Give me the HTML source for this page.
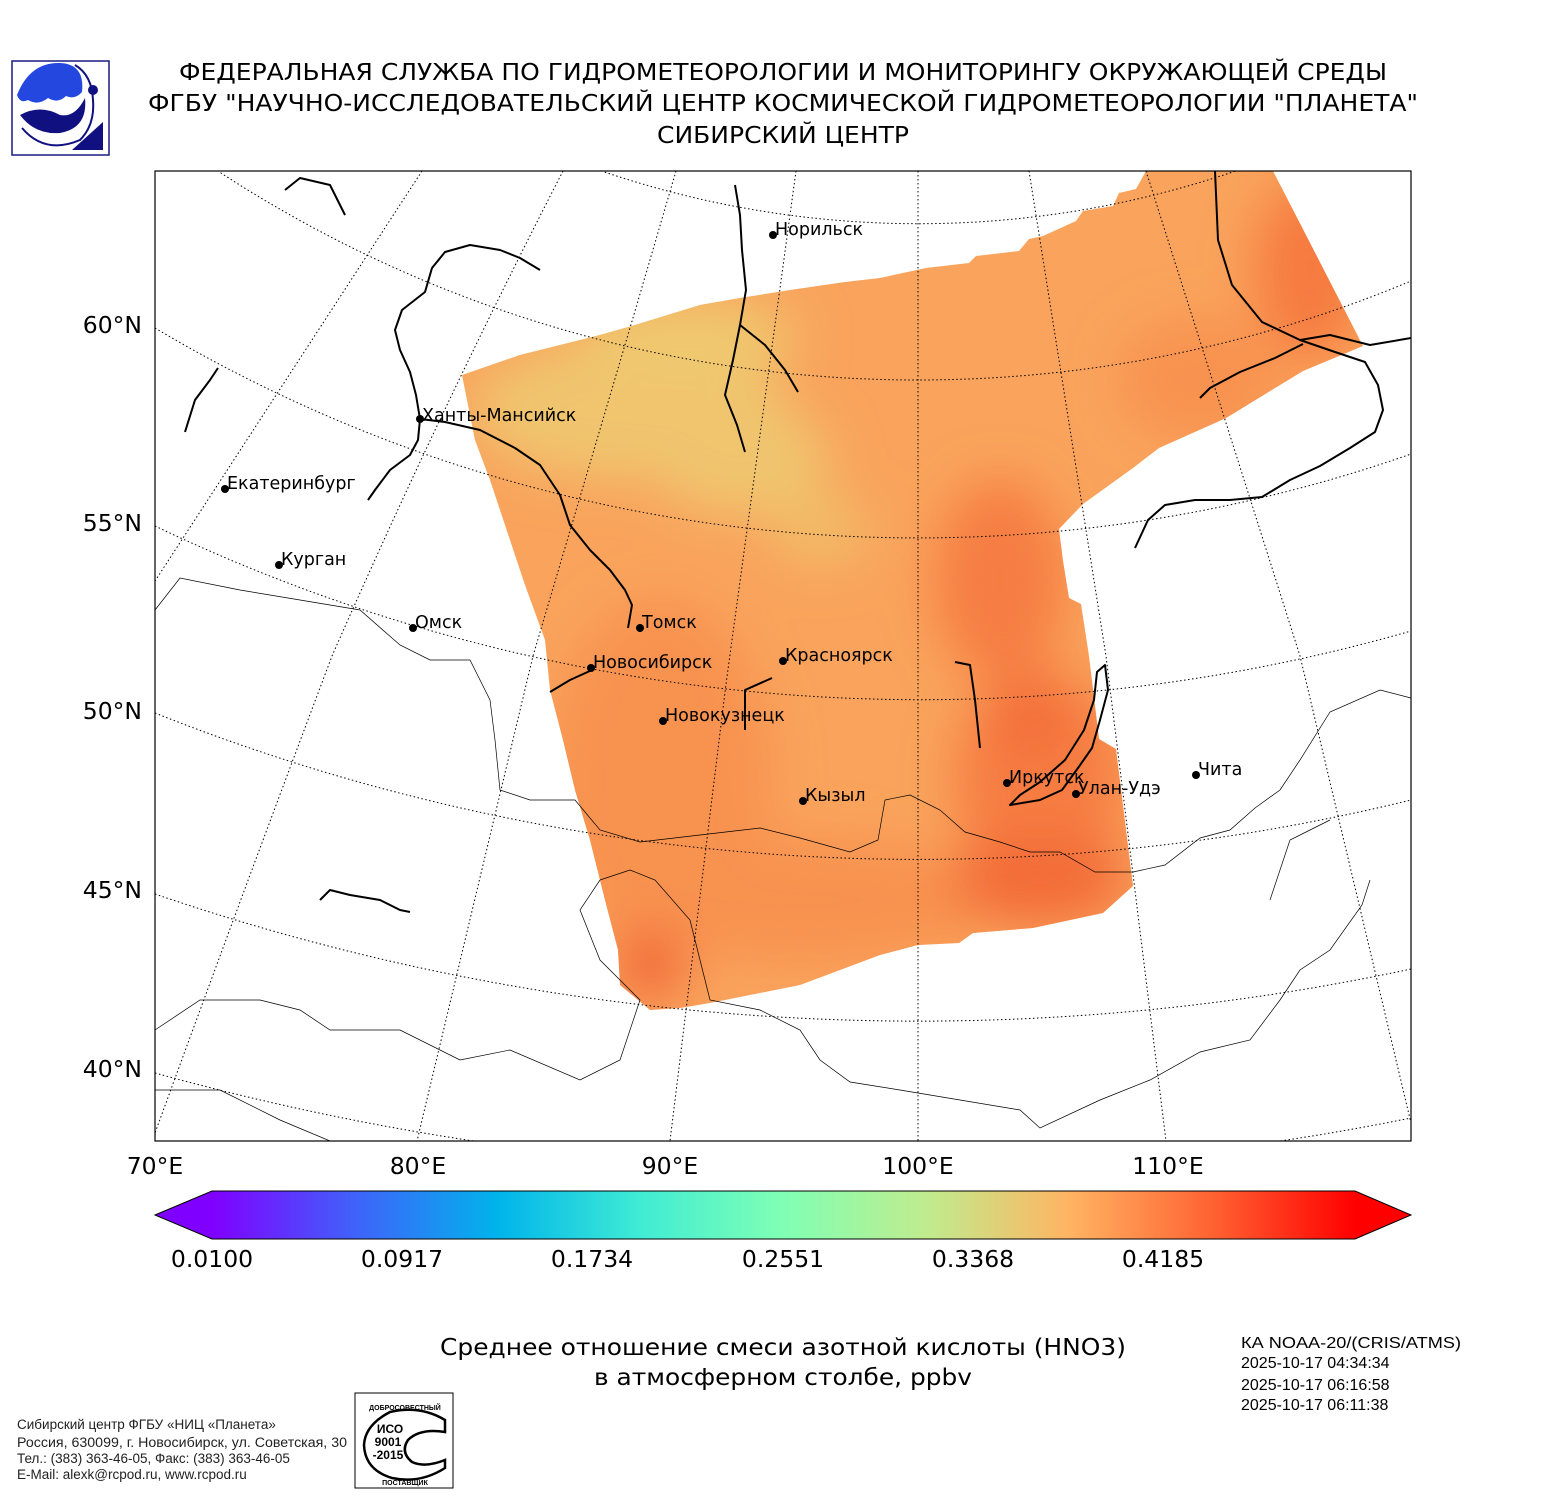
<!DOCTYPE html>
<html><head><meta charset="utf-8"><style>
html,body{margin:0;padding:0;background:#fff;}
body{width:1550px;height:1500px;position:relative;overflow:hidden;font-family:"DejaVu Sans","Liberation Sans",sans-serif;}
</style></head><body>
<svg width="1550" height="1500" viewBox="0 0 1550 1500" xmlns="http://www.w3.org/2000/svg" style="position:absolute;left:0;top:0">
<defs>
<clipPath id="box"><rect x="155" y="171" width="1256" height="970"/></clipPath>
<clipPath id="data"><polygon points="462,375 520,355 540,350 600,335 635,325 700,305 740,298 790,290 845,282 880,278 926,268 969,263 976,256 1019,251 1029,239 1043,236 1076,221 1083,211 1113,206 1119,193 1136,189 1146,171 1273,171 1363,346 1303,371 1226,418 1159,448 1133,468 1083,504 1059,529 1063,561 1069,598 1081,604 1089,656 1099,739 1116,749 1133,886 1103,913 1033,928 973,933 959,943 918,945 880,955 800,985 710,1003 680,1008 650,1010 620,985 618,950 605,900 600,880 590,840 575,790 563,740 550,690 545,640 525,585 505,525 490,480 475,440"/></clipPath>
<filter id="bl" x="-50%" y="-50%" width="200%" height="200%"><feGaussianBlur stdDeviation="25"/></filter>
<linearGradient id="cb" x1="0" x2="1" y1="0" y2="0">
<stop offset="0" stop-color="#8000ff"/><stop offset="0.125" stop-color="#4062fa"/><stop offset="0.25" stop-color="#00b4eb"/><stop offset="0.375" stop-color="#40ecd4"/><stop offset="0.5" stop-color="#80ffb4"/><stop offset="0.625" stop-color="#c0ec8e"/><stop offset="0.75" stop-color="#ffb462"/><stop offset="0.875" stop-color="#ff6232"/><stop offset="1" stop-color="#ff0000"/>
</linearGradient>
</defs>

<!-- logo -->
<rect x="12" y="61" width="97" height="94" fill="#fff" stroke="#1a1a80" stroke-width="1.5"/>
<path d="M17,95 Q30,62 60,63 Q85,64 82,92 Q75,100 66,96 Q58,104 48,98 Q38,106 28,100 Q20,104 17,95Z" fill="#2447e0"/>
<path d="M20,115 Q40,104 60,115 Q75,118 85,98 Q88,128 60,133 Q35,135 20,115Z" fill="#101080"/>
<path d="M22,128 Q45,155 80,140 Q95,125 93,100 Q92,75 75,65" fill="none" stroke="#101080" stroke-width="2"/>
<circle cx="93" cy="90" r="5" fill="#101080"/>
<polygon points="72,150 103,150 103,122" fill="#101080"/>

<g font-size="23" text-anchor="middle" fill="#000">
<text x="783" y="80" textLength="1208" lengthAdjust="spacingAndGlyphs">ФЕДЕРАЛЬНАЯ СЛУЖБА ПО ГИДРОМЕТЕОРОЛОГИИ И МОНИТОРИНГУ ОКРУЖАЮЩЕЙ СРЕДЫ</text>
<text x="783" y="111" textLength="1270" lengthAdjust="spacingAndGlyphs">ФГБУ "НАУЧНО-ИССЛЕДОВАТЕЛЬСКИЙ ЦЕНТР КОСМИЧЕСКОЙ ГИДРОМЕТЕОРОЛОГИИ "ПЛАНЕТА"</text>
<text x="783" y="143" textLength="252" lengthAdjust="spacingAndGlyphs">СИБИРСКИЙ ЦЕНТР</text>
</g>

<!-- data -->
<g clip-path="url(#data)">
<rect x="155" y="171" width="1256" height="970" fill="#f9a35c"/>
<g filter="url(#bl)">
<ellipse cx="630" cy="410" rx="160" ry="70" fill="#f0c56e"/>
<ellipse cx="740" cy="460" rx="90" ry="55" fill="#f0c56e"/>
<ellipse cx="820" cy="530" rx="50" ry="35" fill="#f2bb68"/>
<ellipse cx="690" cy="335" rx="110" ry="35" fill="#efc96f"/>
<ellipse cx="660" cy="780" rx="110" ry="180" fill="#f8924f"/>
<ellipse cx="800" cy="900" rx="200" ry="60" fill="#f8924f"/>
<ellipse cx="1000" cy="580" rx="65" ry="100" fill="#f67d42"/>
<ellipse cx="1040" cy="780" rx="85" ry="110" fill="#f67d42"/>
<ellipse cx="1040" cy="880" rx="90" ry="45" fill="#f36c39"/>
<ellipse cx="1030" cy="720" rx="35" ry="35" fill="#f36c39"/>
<ellipse cx="650" cy="965" rx="35" ry="35" fill="#f26638"/>
<ellipse cx="1310" cy="270" rx="55" ry="90" fill="#f67a40"/>
<ellipse cx="1200" cy="380" rx="80" ry="60" fill="#f8924f"/>
</g>
</g>

<g clip-path="url(#box)" fill="none">
<g stroke="#000" stroke-width="1" stroke-dasharray="1.5,2.5">
<path d="M155,-142 A980,980 0 0 0 1411,91"/>
<path d="M155,127 A1277,1277 0 0 0 1411,281"/>
<path d="M155,328 A1491,1491 0 0 0 1411,454"/>
<path d="M155,526 A1778,1778 0 0 0 1411,631"/>
<path d="M155,713 A2067,2067 0 0 0 1411,800"/>
<path d="M155,894 A2355,2355 0 0 0 1411,969"/>
<path d="M155,1073 A2701,2701 0 0 0 1411,1118"/>
<path d="M422,171 L155,581"/>
<path d="M563,171 Q440,410 332,656 Q240,900 155,1133"/>
<path d="M676,171 L635,311 L533,656 L417,1141"/>
<path d="M796,171 L726,684 L670,1141"/>
<path d="M918,171 L918,1141"/>
<path d="M1029,171 L1106,656 L1166,1141"/>
<path d="M1146,171 L1300,656 L1411,1123"/>
</g>
<g stroke="#000" stroke-width="0.7">
<path d="M155,610 L180,578 L240,590 L300,600 L360,610 L400,645 L430,660 L470,660 L490,700 L495,740 L500,790 L530,800 L575,800 L600,830 L640,842 L700,835 L760,828 L800,838 L850,852 L878,840 L885,800 L910,795 L940,810 L965,832 L1000,842 L1030,852 L1060,852 L1095,872 L1133,872 L1165,865 L1200,838 L1230,830 L1255,808 L1280,790 L1300,760 L1330,712 L1380,690 L1411,698"/>
<path d="M600,880 L630,870 L655,880 L690,920 L700,960 L710,1000 L760,1010 L800,1030 L820,1060 L850,1082 L900,1090 L960,1100 L1020,1110 L1040,1128 L1100,1100 L1150,1080 L1200,1052 L1250,1040 L1280,1000 L1300,970 L1330,950 L1362,905 L1370,880"/>
<path d="M155,1030 L200,1000 L260,1000 L300,1010 L330,1030 L400,1030 L460,1060 L510,1050 L580,1080 L620,1060 L640,1000 L600,960 L580,910 L600,880"/>
<path d="M155,1090 L220,1090 L280,1120 L330,1141"/>
<path d="M1270,900 L1290,840 L1330,820"/>
</g>
<g stroke="#000" stroke-width="2" stroke-linejoin="round">
<path d="M628,628 L632,605 L625,590 L610,570 L590,550 L570,525 L560,495 L540,465 L515,448 L480,430 L445,422 L420,419 L416,395 L410,372 L400,350 L395,330 L402,310 L425,292 L432,268 L445,252 L470,245 L500,250 L520,258 L540,270"/>
<path d="M420,419 L418,440 L410,455 L390,470 L375,490 L368,500"/>
<path d="M745,452 L737,425 L725,395 L733,360 L740,325 L746,290 L742,250 L740,215 L735,185"/>
<path d="M740,325 L765,345 L785,370 L798,392"/>
<path d="M1215,171 L1218,240 L1232,285 L1262,322 L1300,340 L1335,352 L1365,362 L1378,385 L1383,410 L1375,432 L1350,448 L1320,466 L1290,480 L1262,497 L1230,500 L1195,500 L1165,505 L1148,520 L1135,548"/>
<path d="M1300,340 L1330,335 L1370,345 L1411,338"/>
<path d="M1303,344 L1275,358 L1240,372 L1210,388 L1200,398"/>
<path d="M980,748 L975,700 L970,665 L955,662"/>
<path d="M550,692 L570,680 L592,670"/>
<path d="M745,730 L745,690 L772,678"/>
<path d="M285,190 L300,178 L330,185 L345,215"/>
<path d="M1010,805 L1040,800 L1062,790 L1078,768 L1092,748 L1100,720 L1108,690 L1105,665 L1097,672 L1094,700 L1084,730 L1065,760 L1040,782 L1020,795 Z"/>
<path d="M185,432 L195,400 L210,380 L218,368"/>
<path d="M320,900 L330,890 L350,895 L380,900 L400,910 L410,912"/>
</g>
</g>
<rect x="155" y="171" width="1256" height="970" fill="none" stroke="#000" stroke-width="1.2"/>

<g font-size="17.5" fill="#000">
<circle cx="420" cy="419" r="4"/><text x="422" y="421">Ханты-Мансийск</text>
<circle cx="225" cy="489" r="4"/><text x="227" y="489">Екатеринбург</text>
<circle cx="279" cy="565" r="4"/><text x="281" y="565">Курган</text>
<circle cx="413" cy="628" r="4"/><text x="415" y="628">Омск</text>
<circle cx="640" cy="628" r="4"/><text x="642" y="628">Томск</text>
<circle cx="591" cy="668" r="4"/><text x="593" y="668">Новосибирск</text>
<circle cx="783" cy="661" r="4"/><text x="785" y="661">Красноярск</text>
<circle cx="663" cy="721" r="4"/><text x="665" y="721">Новокузнецк</text>
<circle cx="803" cy="801" r="4"/><text x="805" y="801">Кызыл</text>
<circle cx="1007" cy="783" r="4"/><text x="1009" y="783">Иркутск</text>
<circle cx="1076" cy="794" r="4"/><text x="1078" y="794">Улан-Удэ</text>
<circle cx="1196" cy="775" r="4"/><text x="1198" y="775">Чита</text>
<circle cx="773" cy="235" r="4"/><text x="775" y="235">Норильск</text>
</g>

<g font-size="23.5" fill="#000" text-anchor="end">
<text x="142" y="333">60°N</text><text x="142" y="531">55°N</text><text x="142" y="719">50°N</text><text x="142" y="898">45°N</text><text x="142" y="1077">40°N</text>
</g>
<g font-size="23.5" fill="#000" text-anchor="middle">
<text x="155" y="1174">70°E</text><text x="418" y="1174">80°E</text><text x="670" y="1174">90°E</text><text x="918" y="1174">100°E</text><text x="1168" y="1174">110°E</text>
</g>

<polygon points="155,1215 212,1191 212,1239" fill="#8000ff"/>
<polygon points="1411,1215 1355,1191 1355,1239" fill="#ff0000"/>
<rect x="212" y="1191" width="1143" height="48" fill="url(#cb)"/>
<polygon points="155,1215 212,1191 1355,1191 1411,1215 1355,1239 212,1239" fill="none" stroke="#000" stroke-width="1"/>
<g font-size="23.5" fill="#000" text-anchor="middle">
<text x="212" y="1267">0.0100</text><text x="402" y="1267">0.0917</text><text x="592" y="1267">0.1734</text><text x="783" y="1267">0.2551</text><text x="973" y="1267">0.3368</text><text x="1163" y="1267">0.4185</text>
</g>

<g font-size="23.5" fill="#000" text-anchor="middle">
<text x="783" y="1355" textLength="686" lengthAdjust="spacingAndGlyphs">Среднее отношение смеси азотной кислоты (HNO3)</text>
<text x="783" y="1385" textLength="378" lengthAdjust="spacingAndGlyphs">в атмосферном столбе, ppbv</text>
</g>
<g font-size="16" fill="#000" font-family="Liberation Sans, sans-serif">
<text x="1241" y="1348" textLength="220" lengthAdjust="spacingAndGlyphs">КА NOAA-20/(CRIS/ATMS)</text>
<text x="1241" y="1368">2025-10-17 04:34:34</text>
<text x="1241" y="1390">2025-10-17 06:16:58</text>
<text x="1241" y="1410">2025-10-17 06:11:38</text>
</g>
<g font-size="13.5" fill="#222" font-family="Liberation Sans, sans-serif">
<text x="17" y="1429">Сибирский центр ФГБУ «НИЦ «Планета»</text>
<text x="17" y="1447" textLength="330" lengthAdjust="spacingAndGlyphs">Россия, 630099, г. Новосибирск, ул. Советская, 30</text>
<text x="17" y="1463">Тел.: (383) 363-46-05, Факс: (383) 363-46-05</text>
<text x="17" y="1479">E-Mail: alexk@rcpod.ru, www.rcpod.ru</text>
</g>
<rect x="355" y="1393" width="98" height="95" fill="#fff" stroke="#000" stroke-width="1"/>
<path d="M445,1420 Q420,1405 390,1412 Q365,1425 364,1445 Q365,1470 392,1478 Q420,1484 445,1468 L445,1460 Q425,1468 412,1462 Q400,1452 408,1440 Q420,1428 445,1432 Z" fill="none" stroke="#000" stroke-width="2.5"/>
<g font-family="Liberation Sans, sans-serif" font-weight="bold" fill="#000" text-anchor="middle">
<text x="390" y="1433" font-size="12">ИСО</text>
<text x="388" y="1446" font-size="12">9001</text>
<text x="388" y="1459" font-size="12">-2015</text>
<text x="405" y="1410" font-size="7">ДОБРОСОВЕСТНЫЙ</text>
<text x="405" y="1485" font-size="7">ПОСТАВЩИК</text>
</g>
</svg>
</body></html>
